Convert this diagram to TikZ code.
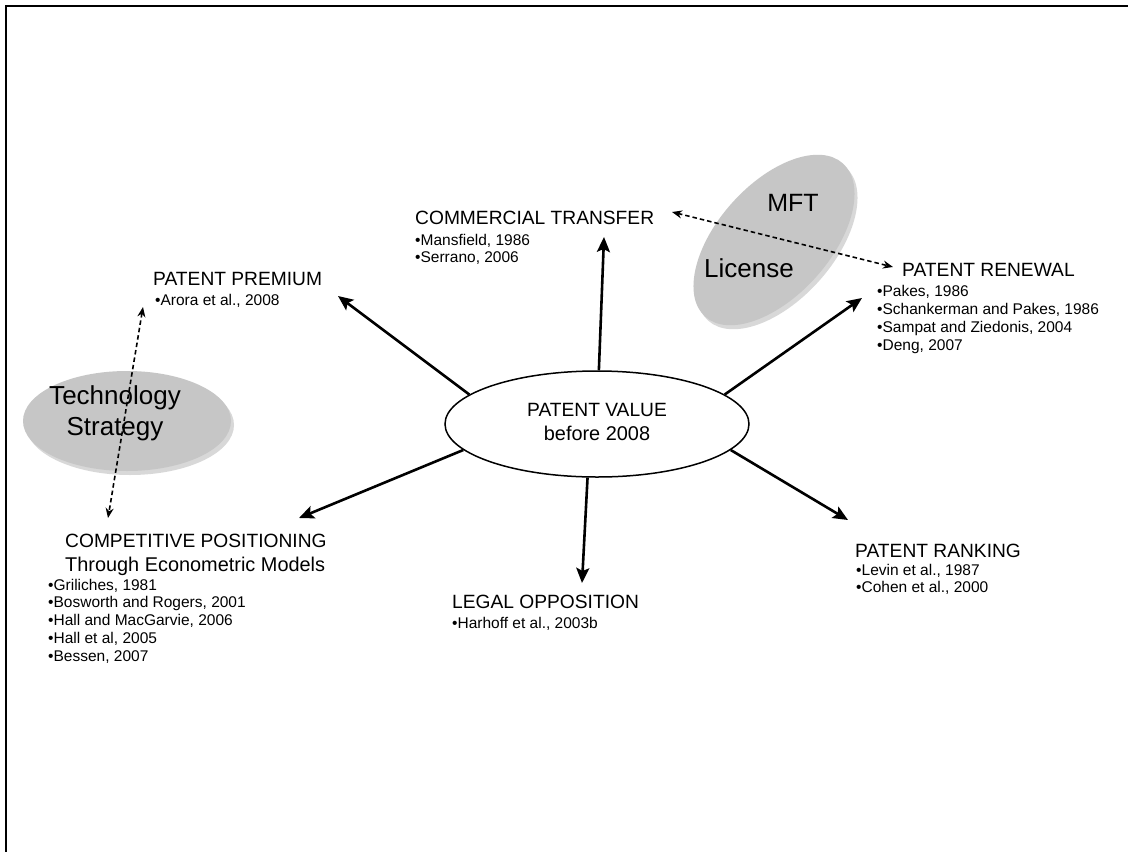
\documentclass[tikz,border=0pt]{standalone}
\usepackage{fontspec}
\setmainfont{Liberation Sans}
\usetikzlibrary{shapes.geometric,arrows.meta,shadows}
\newcommand\lefttab[1]{\begin{tabular}[t]{@{}l@{}}#1\end{tabular}}
\newcommand\centab[1]{\begin{tabular}[t]{@{}c@{}}#1\end{tabular}}
\newcommand\lowline[1]{{\fontsize{19.9}{24}\selectfont #1}}
\begin{document}
\begin{tikzpicture}[x=1pt,y=-1pt,
  head/.style={inner sep=0pt, anchor=base west, font=\fontsize{19.2}{24}\selectfont},
  refs/.style={inner sep=0pt, anchor=base west, font=\fontsize{15.5}{17.8}\selectfont},
  link/.style={line width=2.6pt, -{Stealth[length=15pt,width=13pt,inset=3pt]}},
  assoc/.style={line width=1.6pt, dash pattern=on 4.5pt off 3pt,
    {Stealth[length=10pt,width=8pt]}-{Stealth[length=10pt,width=8pt]}},
  bubble/.style={ellipse, fill=gray!45, inner sep=0pt,
    drop shadow={shadow xshift=3pt, shadow yshift=-4pt, opacity=0.3}},
  bubbletext/.style={inner sep=0pt, anchor=base, font=\fontsize{26}{31}\selectfont}]
\useasboundingbox (0,0) rectangle (1128,852);
\fill[white] (0,0) rectangle (1128,852);
% frame
\draw[line width=2pt] (6,852) -- (6,6) -- (1128,6);

% grey bubbles
\node[bubble, minimum width=208pt, minimum height=100pt] (ts) at (127,421) {};
\node[bubbletext] (tstext) at (115,404) {\centab{Technology\\Strategy}};
\node[bubble, rotate=48, minimum width=206pt, minimum height=112pt] (ml) at (774,240) {};
\node[bubbletext, font=\fontsize{25}{30}\selectfont] (mft) at (793,211) {MFT};
\node[bubbletext] (lic) at (749,277) {License};

% centre
\node[ellipse, draw, line width=1.5pt, fill=white, inner sep=0pt,
  minimum width=304pt, minimum height=106pt] (pv) at (597,424) {};
\node[inner sep=0pt, anchor=base, font=\fontsize{19.2}{24}\selectfont] (pvtext) at (597,416)
  {\centab{PATENT VALUE\\\lowline{before 2008}}};

% headings and references
\node[head] (pp) at (153,285) {PATENT PREMIUM};
\node[refs] (ppr) at (155,305) {\lefttab{•Arora et al., 2008}};
\node[head] (ct) at (415,224) {COMMERCIAL TRANSFER};
\node[refs] (ctr) at (415,245) {\lefttab{•Mansfield, 1986\\•Serrano, 2006}};
\node[head] (pr) at (902,276) {PATENT RENEWAL};
\node[refs] (prr) at (877,296.7) {\lefttab{•Pakes, 1986\\•Schankerman and Pakes, 1986\\•Sampat and Ziedonis, 2004\\•Deng, 2007}};
\node[head] (cp) at (65,547) {\lefttab{COMPETITIVE POSITIONING\\\lowline{Through Econometric Models}}};
\node[refs] (cpr) at (48,590) {\lefttab{•Griliches, 1981\\•Bosworth and Rogers, 2001\\•Hall and MacGarvie, 2006\\•Hall et al, 2005\\•Bessen, 2007}};
\node[head] (lo) at (452,608) {LEGAL OPPOSITION};
\node[refs] (lor) at (452,628) {\lefttab{•Harhoff et al., 2003b}};
\node[head] (rk) at (855,557) {PATENT RANKING};
\node[refs] (rkr) at (856,575) {\lefttab{•Levin et al., 1987\\•Cohen et al., 2000}};

% arrow end points
\coordinate (tPP) at (338,296);
\coordinate (tCT) at (604,237);
\coordinate (tPR) at (862,298);
\coordinate (tCP) at (299,518);
\coordinate (tLO) at (582,583);
\coordinate (tRK) at (848,520);
\coordinate (dA1) at (672,212);
\coordinate (dA2) at (893,267);
\coordinate (dB1) at (143,307);
\coordinate (dB2) at (108,518);

% solid arrows
\draw[link] (pv.167) -- (tPP);
\draw[link] (pv.88) -- (tCT);
\draw[link] (pv.13) -- (tPR);
\draw[link] (pv.191) -- (tCP);
\draw[link] (pv.260) -- (tLO);
\draw[link] (pv.349) -- (tRK);

% dashed arrows
\draw[assoc] (dA1) -- (dA2);
\draw[assoc] (dB1) -- (dB2);
\end{tikzpicture}
\end{document}
